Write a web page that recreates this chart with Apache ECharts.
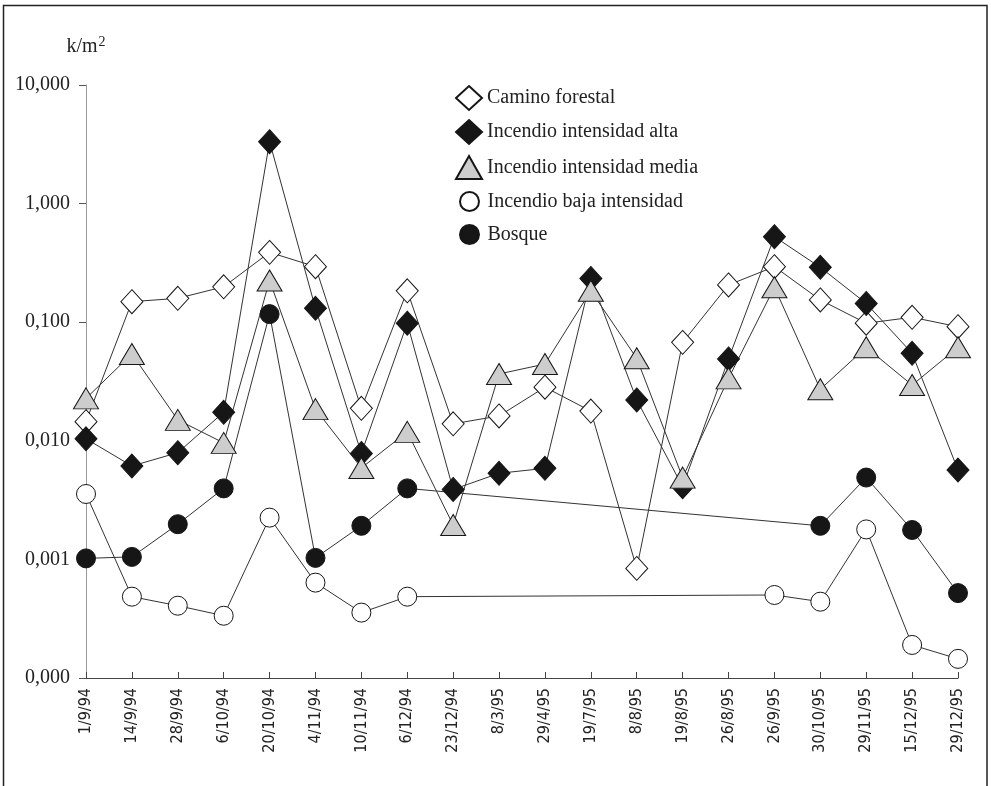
<!DOCTYPE html>
<html>
<head>
<meta charset="utf-8">
<script src="https://cdn.jsdelivr.net/npm/echarts@6/dist/echarts.min.js"></script>
<style>
html,body{margin:0;padding:0;background:#fff;}
#chart{width:991px;height:786px;}
</style>
</head>
<body>
<div id="chart"></div>
<script>
var categories = ['1/9/94','14/9/94','28/9/94','6/10/94','20/10/94','4/11/94','10/11/94','6/12/94','23/12/94','8/3/95','29/4/95','19/7/95','8/8/95','19/8/95','26/8/95','26/9/95','30/10/95','29/11/95','15/12/95','29/12/95'];

var caminoForestal = [0.0145, 0.149, 0.159, 0.199, 0.388, 0.294, 0.0188, 0.184, 0.0139, 0.0162, 0.0283, 0.0178, 0.00084, 0.0676, 0.206, 0.294, 0.154, 0.098, 0.11, 0.0916];
var incendioAlta = [0.0104, 0.00613, 0.00794, 0.0174, 3.33, 0.131, 0.00783, 0.098, 0.00389, 0.00532, 0.00586, 0.234, 0.0221, 0.0041, 0.049, 0.526, 0.29, 0.144, 0.0547, 0.00567];
var incendioMedia = [0.0228, 0.054, 0.015, 0.0096, 0.225, 0.0185, 0.0059, 0.0119, 0.00195, 0.0366, 0.0444, 0.184, 0.0496, 0.00489, 0.0336, 0.197, 0.0272, 0.0614, 0.0295, 0.0614];
var incendioBaja = [0.00356, 0.000485, 0.000407, 0.000335, 0.00225, 0.000637, 0.000356, 0.000485, null, null, null, null, null, null, null, 0.000501, 0.00044, 0.00179, 0.00019, 0.000145];
var bosque = [0.00102, 0.00105, 0.00198, 0.00397, 0.117, 0.00103, 0.00192, 0.00397, null, null, null, null, null, null, null, null, 0.00192, 0.0049, 0.00177, 0.00052];

var seriesNames = ['Camino forestal', 'Incendio intensidad alta', 'Incendio intensidad media', 'Incendio baja intensidad', 'Bosque'];
var yTicks = [0.0001, 0.001, 0.01, 0.1, 1, 10];

var serif = "'Liberation Serif', 'DejaVu Serif', serif";
var sansNarrow = "'Liberation Sans Narrow', 'DejaVu Sans Condensed', 'Liberation Sans', sans-serif";
var ink = '#161616';
var lineCol = '#333';

function mkSeries(name, data, symbol, size, fill, connect) {
  return {
    name: name,
    type: 'line',
    data: data,
    symbol: symbol,
    symbolSize: size,
    showAllSymbol: true,
    connectNulls: !!connect,
    lineStyle: { color: lineCol, width: 1 },
    itemStyle: { color: fill, borderColor: ink, borderWidth: 1 },
    emphasis: { disabled: true }
  };
}

function mkLegend(name, icon, w, h, left, top) {
  return {
    data: [{ name: name, icon: icon }],
    orient: 'vertical',
    left: left,
    top: top,
    padding: 0,
    itemWidth: w,
    itemHeight: h,
    selectedMode: false,
    textStyle: { fontFamily: serif, fontSize: 20, color: '#222' }
  };
}

var chart = echarts.init(document.getElementById('chart'), null, { renderer: 'canvas' });
chart.setOption({
  animation: false,
  backgroundColor: '#fff',
  grid: { left: 86, right: 33, top: 85, bottom: 108, containLabel: false },
  legend: [
    mkLegend(seriesNames[0], 'diamond', 26, 24, 455, 85),
    mkLegend(seriesNames[1], 'diamond', 26, 24, 455, 119),
    mkLegend(seriesNames[2], 'triangle', 26, 23, 455, 155),
    mkLegend(seriesNames[3], 'circle', 26, 19, 459, 191),
    mkLegend(seriesNames[4], 'circle', 26, 19, 459, 224)
  ],
  xAxis: {
    type: 'category',
    data: categories,
    boundaryGap: false,
    axisLine: { lineStyle: { color: '#444', width: 1 } },
    axisTick: { inside: true, length: 6, alignWithLabel: true, lineStyle: { color: '#444' } },
    axisLabel: { rotate: 90, interval: 0, margin: 10, fontFamily: sansNarrow, fontSize: 16, color: '#222' },
    splitLine: { show: false }
  },
  yAxis: {
    type: 'log',
    logBase: 10,
    min: yTicks[0],
    max: yTicks[yTicks.length - 1],
    name: '{a|k/m}{s|2}',
    nameLocation: 'end',
    nameGap: 27,
    nameTextStyle: {
      rich: {
        a: { fontFamily: serif, fontSize: 20, color: '#222' },
        s: { fontFamily: serif, fontSize: 14, color: '#222', padding: [0, 0, 9, 1] }
      }
    },
    axisLine: { show: true, lineStyle: { color: '#9a9a9a', width: 1 } },
    axisTick: { show: true, inside: false, length: 7, lineStyle: { color: '#555' } },
    axisLabel: {
      margin: 16,
      fontFamily: serif,
      fontSize: 20,
      color: '#222',
      formatter: function (v) { return Number(v).toFixed(3).replace('.', ','); }
    },
    splitLine: { show: false }
  },
  graphic: [{
    type: 'rect',
    shape: { x: 3.5, y: 5.5, width: 983.5, height: 800 },
    style: { fill: 'none', stroke: '#222', lineWidth: 1.5 },
    silent: true
  }],
  series: [
    mkSeries(seriesNames[0], caminoForestal, 'diamond', [22, 24], '#fff', false),
    mkSeries(seriesNames[1], incendioAlta, 'diamond', [22, 24], ink, false),
    mkSeries(seriesNames[2], incendioMedia, 'triangle', [25, 21], '#cdcdcd', false),
    mkSeries(seriesNames[3], incendioBaja, 'circle', 19, '#fff', true),
    mkSeries(seriesNames[4], bosque, 'circle', 19, ink, true)
  ]
});
</script>
</body>
</html>
